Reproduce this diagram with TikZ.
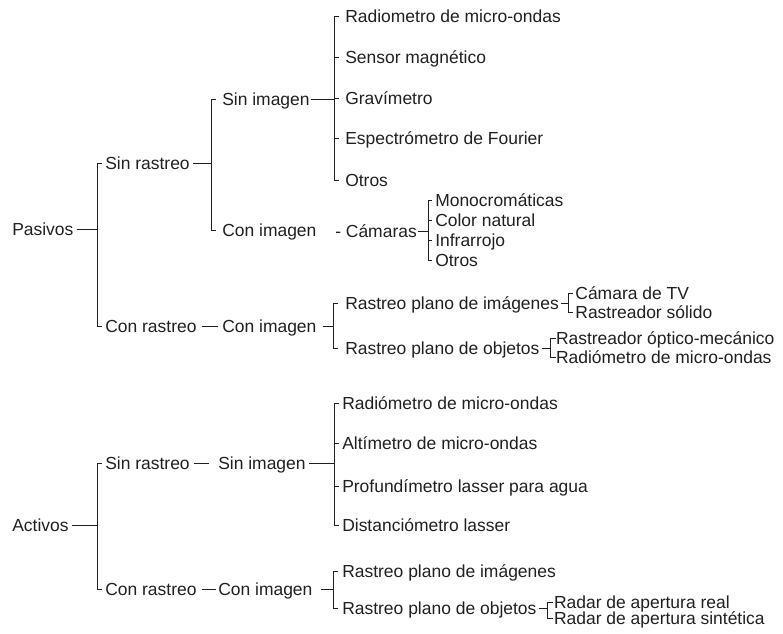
\documentclass[tikz,border=0pt]{standalone}
\usepackage{fontspec}
\setmainfont{Liberation Sans}
\usetikzlibrary{calc}
\definecolor{ink}{HTML}{231F20}
\begin{document}
\begin{tikzpicture}[x=0.75pt,y=-0.75pt,
  lbl/.style={anchor=west,inner sep=0pt,text height=9.4pt,text depth=0.3pt,
    font=\fontsize{13.1}{15}\selectfont,text=ink},
  ln/.style={draw=ink,line width=0.65pt}]
\useasboundingbox (0,0) rectangle (783,634);

% ---------------- Pasivos ----------------
\node[lbl] (pas) at (12,229) {Pasivos};
\node[lbl] (psr) at (105,163) {Sin rastreo};
\node[lbl] (pcr) at (105,326) {Con rastreo};
\coordinate (sA) at (97,0);
\draw[ln] ($(pas.east)+(3,0)$) -- (pas.east -| sA);
\draw[ln] ($(psr.west -| sA)+(5,0)$) -- (psr.west -| sA) -- (pcr.west -| sA) -- ++(5,0);

\node[lbl] (psi) at (222,99) {Sin imagen};
\node[lbl] (pci) at (222,230) {Con imagen};
\coordinate (sB) at (211,0);
\draw[ln] ($(psr.east)+(3,0)$) -- (psr.east -| sB);
\draw[ln] ($(psi.west -| sB)+(5,0)$) -- (psi.west -| sB) -- (pci.west -| sB) -- ++(5,0);

\node[lbl] (p1) at (345,16) {Radiometro de micro-ondas};
\node[lbl] (p2) at (345,57) {Sensor magnético};
\node[lbl] (p3) at (345,98) {Gravímetro};
\node[lbl] (p4) at (345,138) {Espectrómetro de Fourier};
\node[lbl] (p5) at (345,180) {Otros};
\coordinate (sC) at (334,0);
\draw[ln] ($(psi.east)+(1,0)$) -- (psi.east -| sC);
\draw[ln] ($(p1.west -| sC)+(5,0)$) -- (p1.west -| sC) -- (p5.west -| sC) -- ++(5,0);
\draw[ln] (p2.west -| sC) -- ++(5,0);
\draw[ln] (p3.west -| sC) -- ++(5,0);
\draw[ln] (p4.west -| sC) -- ++(5,0);

\node[lbl] (cam) at (335,231) {- Cámaras};
\node[lbl] (c1) at (435,200) {Monocromáticas};
\node[lbl] (c2) at (435,220) {Color natural};
\node[lbl] (c3) at (435,240) {Infrarrojo};
\node[lbl] (c4) at (435,260) {Otros};
\coordinate (sD) at (428,0);
\draw[ln] ($(cam.east)+(1,0)$) -- (cam.east -| sD);
\draw[ln] ($(c1.west -| sD)+(4,0)$) -- (c1.west -| sD) -- (c4.west -| sD) -- ++(4,0);
\draw[ln] (c2.west -| sD) -- ++(4,0);
\draw[ln] (c3.west -| sD) -- ++(4,0);

\node[lbl] (pci2) at (222,326) {Con imagen};
\draw[ln] ($(pcr.east)+(5,0)$) -- ($(pcr.east -| pci2.west)+(-4,0)$);
\node[lbl] (pr1) at (345,303) {Rastreo plano de imágenes};
\node[lbl] (pr2) at (345,348) {Rastreo plano de objetos};
\coordinate (sE) at (333,0);
\draw[ln] ($(pci2.east)+(6,0)$) -- (pci2.east -| sE);
\draw[ln] ($(pr1.west -| sE)+(5,0)$) -- (pr1.west -| sE) -- (pr2.west -| sE) -- ++(5,0);

\coordinate (sF) at ($(pr1.east)+(9,0)$);
\node[lbl] (t1) at ($(sF |- 0,293)+(7,0)$) {Cámara de TV};
\node[lbl] (t2) at ($(sF |- 0,312)+(7,0)$) {Rastreador sólido};
\draw[ln] ($(pr1.east)+(2,0)$) -- (pr1.east -| sF);
\draw[ln] ($(t1.west -| sF)+(5,0)$) -- (t1.west -| sF) -- (t2.west -| sF) -- ++(5,0);

\coordinate (sG) at ($(pr2.east)+(11,0)$);
\node[lbl] (o1) at ($(sG |- 0,338)+(5,0)$) {Rastreador óptico-mecánico};
\node[lbl] (o2) at ($(sG |- 0,357)+(5,0)$) {Radiómetro de micro-ondas};
\draw[ln] ($(pr2.east)+(2,0)$) -- (pr2.east -| sG);
\draw[ln] ($(o1.west -| sG)+(5,0)$) -- (o1.west -| sG) -- (o2.west -| sG) -- ++(5,0);

% ---------------- Activos ----------------
\node[lbl] (act) at (12,525) {Activos};
\node[lbl] (asr) at (105,463) {Sin rastreo};
\node[lbl] (acr) at (105,589) {Con rastreo};
\coordinate (sH) at (97,0);
\draw[ln] ($(act.east)+(3,0)$) -- (act.east -| sH);
\draw[ln] ($(asr.west -| sH)+(5,0)$) -- (asr.west -| sH) -- (acr.west -| sH) -- ++(5,0);

\node[lbl] (asi) at (218,463) {Sin imagen};
\draw[ln] ($(asr.east)+(4,0)$) -- ($(asr.east -| asi.west)+(-9,0)$);
\node[lbl] (a1) at (342,403) {Radiómetro de micro-ondas};
\node[lbl] (a2) at (342,443) {Altímetro de micro-ondas};
\node[lbl] (a3) at (342,486) {Profundímetro lasser para agua};
\node[lbl] (a4) at (342,525) {Distanciómetro lasser};
\coordinate (sI) at (334,0);
\draw[ln] ($(asi.east)+(3,0)$) -- (asi.east -| sI);
\draw[ln] ($(a1.west -| sI)+(5,0)$) -- (a1.west -| sI) -- (a4.west -| sI) -- ++(5,0);
\draw[ln] (a2.west -| sI) -- ++(5,0);
\draw[ln] (a3.west -| sI) -- ++(5,0);

\node[lbl] (aci) at (218,589) {Con imagen};
\draw[ln] ($(acr.east)+(5,0)$) -- ($(acr.east -| aci.west)+(-2,0)$);
\node[lbl] (ar1) at (342,571) {Rastreo plano de imágenes};
\node[lbl] (ar2) at (342,608) {Rastreo plano de objetos};
\coordinate (sJ) at (333,0);
\draw[ln] ($(aci.east)+(8,0)$) -- (aci.east -| sJ);
\draw[ln] ($(ar1.west -| sJ)+(5,0)$) -- (ar1.west -| sJ) -- (ar2.west -| sJ) -- ++(5,0);

\coordinate (sK) at ($(ar2.east)+(11,0)$);
\node[lbl] (r1) at ($(sK |- 0,602)+(6,0)$) {Radar de apertura real};
\node[lbl] (r2) at ($(sK |- 0,618)+(6,0)$) {Radar de apertura sintética};
\draw[ln] ($(ar2.east)+(2,0)$) -- (ar2.east -| sK);
\draw[ln] ($(r1.west -| sK)+(5,0)$) -- (r1.west -| sK) -- (r2.west -| sK) -- ++(5,0);
\end{tikzpicture}
\end{document}
